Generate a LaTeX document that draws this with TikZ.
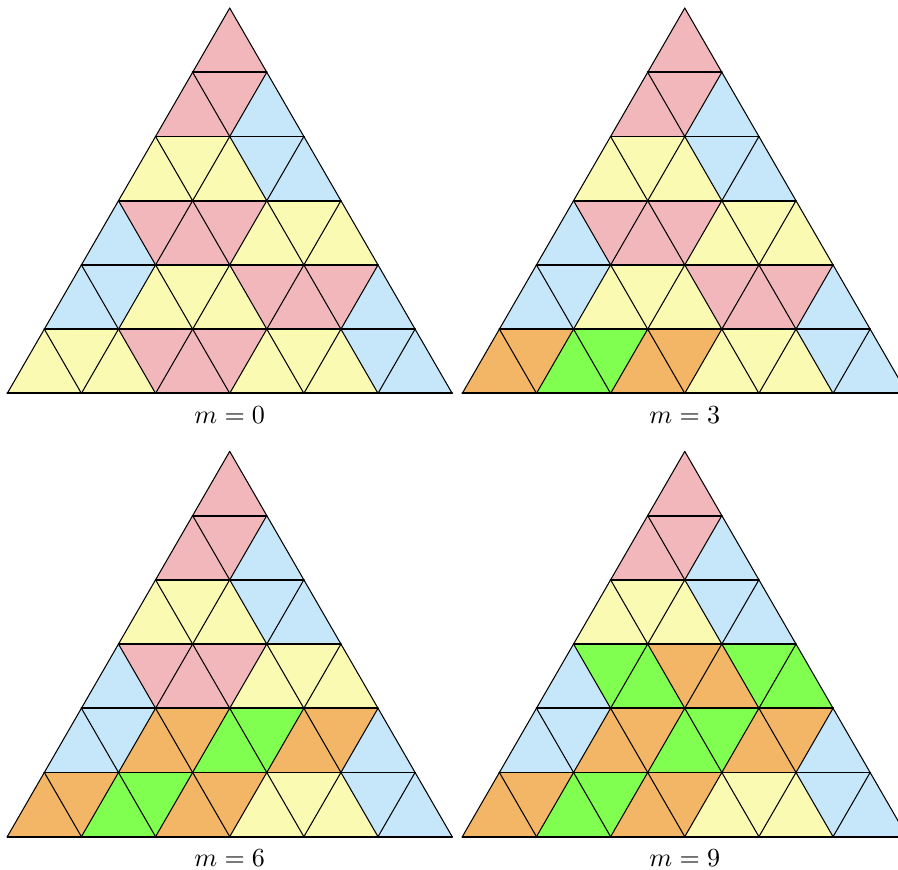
\documentclass[tikz,border=0pt]{standalone}
\definecolor{colP}{HTML}{F2B7BB}
\definecolor{colB}{HTML}{C6E6FA}
\definecolor{colY}{HTML}{FAFAB2}
\definecolor{colO}{HTML}{F2B666}
\definecolor{colG}{HTML}{80FF50}
\tikzset{
  hline/.style={line width=0.7pt, line cap=round},
  sline/.style={line width=0.4pt, line cap=round},
  lbl/.style={inner sep=0pt}
}
\newcommand\tiling[3]{%
  \begin{scope}[shift={(#1,#2)}]
    \foreach \rowcols [count=\rr] in {#3} {
      \pgfmathsetmacro\yb{(6-\rr)*0.8660254}
      \pgfmathsetmacro\xo{(6-\rr)/2}
      \foreach \cc [count=\jj] in \rowcols {
        \pgfmathsetmacro\ax{\xo+(\jj-1)/2}
        \ifodd\jj\relax
          \fill[fill=col\cc] (\ax,\yb) -- ++(1,0) -- ++(-0.5,0.8660254) -- cycle;
        \else
          \fill[fill=col\cc] (\ax,\yb+0.8660254) -- ++(1,0) -- ++(-0.5,-0.8660254) -- cycle;
        \fi
      }
    }
    \foreach \i in {0,...,5} \draw[sline] (\i,0) -- ++({(6-\i)/2},{(6-\i)*0.8660254});
    \foreach \i in {1,...,6} \draw[sline] (\i,0) -- ++({-\i/2},{\i*0.8660254});
    \foreach \k in {0,...,5} \draw[hline] ({\k/2},{\k*0.8660254}) -- ++({6-\k},0);
  \end{scope}}
\begin{document}
\begin{tikzpicture}
  \useasboundingbox (0,0) rectangle (12.111,11.720);
  \fill[white] (0,0) rectangle (12.111,11.720);
  \clip (0,0) rectangle (12.111,11.720);
  % m = 0
  \tiling{0.098}{6.415}{{P},{P,P,B},{Y,Y,Y,B,B},{B,P,P,P,Y,Y,Y},{B,B,Y,Y,Y,P,P,P,B},{Y,Y,Y,P,P,P,Y,Y,Y,B,B}}
  % m = 3
  \tiling{6.235}{6.415}{{P},{P,P,B},{Y,Y,Y,B,B},{B,P,P,P,Y,Y,Y},{B,B,Y,Y,Y,P,P,P,B},{O,O,G,G,O,O,Y,Y,Y,B,B}}
  % m = 6
  \tiling{0.098}{0.436}{{P},{P,P,B},{Y,Y,Y,B,B},{B,P,P,P,Y,Y,Y},{B,B,O,O,G,G,O,O,B},{O,O,G,G,O,O,Y,Y,Y,B,B}}
  % m = 9
  \tiling{6.235}{0.436}{{P},{P,P,B},{Y,Y,Y,B,B},{B,G,G,O,O,G,G},{B,B,O,O,G,G,O,O,B},{O,O,G,G,O,O,Y,Y,Y,B,B}}
  \node[lbl] (l0) at (3.098,6.125) {$m=0$};
  \node[lbl] (l3) at (9.235,6.125) {$m=3$};
  \node[lbl] (l6) at (3.098,0.146) {$m=6$};
  \node[lbl] (l9) at (9.235,0.146) {$m=9$};
\end{tikzpicture}
\end{document}
